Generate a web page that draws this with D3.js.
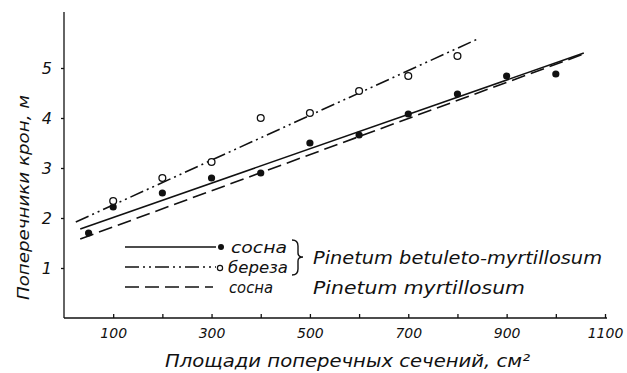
<!DOCTYPE html>
<html><head><meta charset="utf-8">
<script src="https://cdn.jsdelivr.net/npm/d3@7"></script>
<style>body{margin:0;background:#fff}text{font-family:"DejaVu Sans",sans-serif;font-style:italic;fill:#111}</style>
</head><body><svg id="c" width="627" height="373"></svg>
<script>
const xTicks = [100,200,300,400,500,600,700,800,900,1000,1100];
const xTickLabels = [100,300,500,700,900,1100];
const yTicks = [1,2,3,4,5];
const xVals = [50,100,200,300,400,500,600,700,800,900,1000];
const pineBetuletoY = [1.7,2.22,2.5,2.8,2.9,3.5,3.66,4.08,4.48,4.84,4.88];
const birchX = [100,200,300,400,500,600,700,800];
const birchY = [2.34,2.8,3.12,4.0,4.1,4.54,4.84,5.24];
const pineBetuletoLine = [[33,1.78],[1057,5.3]];
const birchLine = [[24,1.92],[841,5.58]];
const pineMyrtLine = [[33,1.58],[1057,5.28]];
const legendLabels = ["сосна","береза","сосна"];
const groupLabels = ["Pinetum betuleto-myrtillosum","Pinetum myrtillosum"];
const xTitle = "Площади поперечных сечений, см²";
const yTitle = "Поперечники крон, м";

const svg = d3.select("#c");
const x = d3.scaleLinear().domain([0,1100]).range([64,605]);
const y = d3.scaleLinear().domain([0,6.1]).range([318,13]);
const fmt = d3.format("d");

// axes
const xa = svg.append("g").attr("transform","translate(0,318)")
  .call(d3.axisTop(x).tickValues(xTicks).tickSize(4).tickFormat(""));
xa.select(".domain").attr("d",`M64,0H607`);
svg.append("g").attr("transform","translate(0,318)")
  .call(d3.axisBottom(x).tickValues(xTickLabels).tickSize(0).tickPadding(10).tickFormat(fmt))
  .call(g=>{g.select(".domain").remove();g.selectAll("text").attr("font-size",14).attr("font-family","DejaVu Sans").attr("font-style","italic").attr("fill","#111");});
const ya = svg.append("g").attr("transform","translate(64,0)")
  .call(d3.axisLeft(y).tickValues(yTicks).tickSize(3).tickPadding(9).tickFormat(fmt));
ya.select(".domain").attr("d",`M0,318V12`);
ya.selectAll("text").attr("font-size",16).attr("font-family","DejaVu Sans").attr("font-style","italic").attr("fill","#111");
svg.selectAll(".domain,.tick line").attr("stroke","#111").attr("stroke-width",1.3);

const line = d3.line().x(d=>x(d[0])).y(d=>y(d[1]));
svg.append("path").attr("d",line(pineBetuletoLine)).attr("stroke","#111").attr("stroke-width",1.6).attr("fill","none");
svg.append("path").attr("d",line(birchLine)).attr("stroke","#111").attr("stroke-width",1.6).attr("fill","none").attr("stroke-dasharray","14,4,2,4,2,4");
svg.append("path").attr("d",line(pineMyrtLine)).attr("stroke","#111").attr("stroke-width",1.6).attr("fill","none").attr("stroke-dasharray","14,6");

svg.append("g").selectAll("circle").data(xVals.map((v,i)=>[v,pineBetuletoY[i]])).join("circle")
  .attr("cx",d=>x(d[0])).attr("cy",d=>y(d[1])).attr("r",3.6).attr("fill","#111");
svg.append("g").selectAll("circle").data(birchX.map((v,i)=>[v,birchY[i]])).join("circle")
  .attr("cx",d=>x(d[0])).attr("cy",d=>y(d[1])).attr("r",3.4).attr("fill","#fff").attr("stroke","#111").attr("stroke-width",1.3);

// legend
const ly = [247,267,287];
const dashes = [null,"14,4,2,4,2,4","14,6"];
ly.forEach((yy,i)=>{
  svg.append("line").attr("x1",125).attr("x2",i==2?213:216).attr("y1",yy).attr("y2",yy)
    .attr("stroke","#111").attr("stroke-width",1.6).attr("stroke-dasharray",dashes[i]);
});
svg.append("circle").attr("cx",221).attr("cy",247).attr("r",3).attr("fill","#111");
svg.append("circle").attr("cx",220).attr("cy",268).attr("r",2.6).attr("fill","#fff").attr("stroke","#111").attr("stroke-width",1.2);
function t(xx,yy,fs,len,s){return svg.append("text").attr("x",xx).attr("y",yy).attr("font-size",fs).attr("textLength",len).attr("lengthAdjust","spacingAndGlyphs").text(s);}
t(231,253,16,56,legendLabels[0]);
t(228,273,16,60,legendLabels[1]);
t(229,293,16,44,legendLabels[2]);
svg.append("path").attr("d","M292,240 Q298,240 298,246 L298,253 Q298,257 303,257 Q298,257 298,261 L298,269 Q298,275 292,275")
  .attr("fill","none").attr("stroke","#111").attr("stroke-width",1.4);
t(313,264,18,289,groupLabels[0]);
t(313,294,18,212,groupLabels[1]);

svg.append("text").attr("x",165).attr("y",367).attr("font-size",17).attr("textLength",365).attr("lengthAdjust","spacingAndGlyphs").text(xTitle);
svg.append("text").attr("transform","translate(29,300) rotate(-90)").attr("font-size",16).attr("textLength",205).attr("lengthAdjust","spacingAndGlyphs").text(yTitle);
</script></body></html>
